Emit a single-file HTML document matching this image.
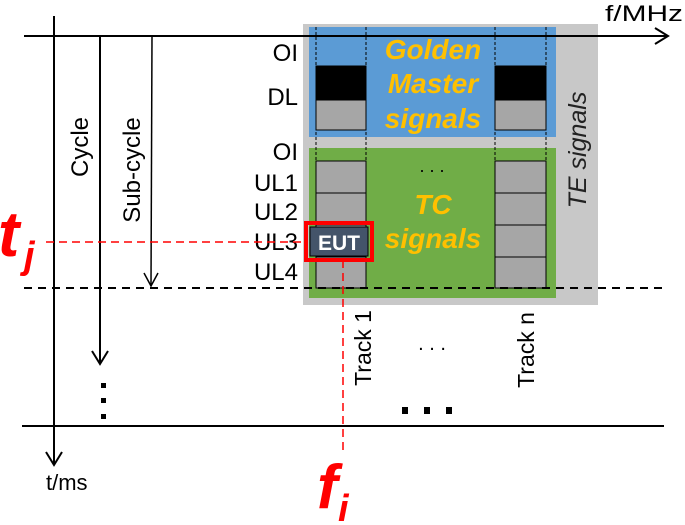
<!DOCTYPE html>
<html><head><meta charset="utf-8"><style>
html,body{margin:0;padding:0;background:#fff;}
svg{display:block;font-family:"Liberation Sans",Arial,sans-serif;}
</style></head><body>
<svg width="685" height="525" viewBox="0 0 685 525" xmlns="http://www.w3.org/2000/svg">
<rect x="303" y="24" width="295" height="281" fill="#c8c8c8"/>
<rect x="309" y="27" width="247" height="110" fill="#5b9bd5"/>
<rect x="309" y="148" width="247" height="150" fill="#70ad47"/>
<g stroke="#000" stroke-width="1" stroke-dasharray="3,2" fill="none">
<line x1="316" y1="27" x2="316" y2="288"/><line x1="366" y1="27" x2="366" y2="288"/>
<line x1="495" y1="27" x2="495" y2="288"/><line x1="546" y1="27" x2="546" y2="288"/>
<line x1="316" y1="66" x2="366" y2="66"/><line x1="495" y1="66" x2="546" y2="66"/>
</g>
<g stroke="#000" stroke-width="1">
<rect x="316" y="66" width="50" height="34" fill="#000"/>
<rect x="316" y="100" width="50" height="30" fill="#a6a6a6"/>
<rect x="495" y="66" width="51" height="34" fill="#000"/>
<rect x="495" y="100" width="51" height="30" fill="#a6a6a6"/>
<rect x="316" y="161" width="50" height="32" fill="#a6a6a6"/>
<rect x="316" y="193" width="50" height="32" fill="#a6a6a6"/>
<rect x="316" y="225" width="50" height="32" fill="#a6a6a6"/>
<rect x="316" y="257" width="50" height="31" fill="#a6a6a6"/>
<rect x="495" y="161" width="51" height="32" fill="#a6a6a6"/>
<rect x="495" y="193" width="51" height="32" fill="#a6a6a6"/>
<rect x="495" y="225" width="51" height="32" fill="#a6a6a6"/>
<rect x="495" y="257" width="51" height="31" fill="#a6a6a6"/>
</g>
<g fill="#ffc000" font-weight="bold" font-style="italic" font-size="28" text-anchor="middle">
<text x="433" y="59">Golden</text><text x="433" y="93">Master</text><text x="433" y="128">signals</text>
<text x="433" y="214">TC</text><text x="433" y="248">signals</text>
</g>
<text x="432" y="172" font-size="18" text-anchor="middle">. . .</text>
<text transform="translate(586,150) rotate(-90)" font-size="25" font-style="italic" text-anchor="middle" fill="#222">TE signals</text>
<g stroke="#000" stroke-width="2" fill="none">
<line x1="24" y1="36" x2="668" y2="36"/><polyline points="655,28 668,36 655,44"/>
<line x1="54" y1="16" x2="54" y2="465"/><polyline points="46,452 54,465 62,452"/>
<line x1="100" y1="36" x2="100" y2="364"/><polyline points="92,351 100,364 108,351"/>
<line x1="22" y1="426" x2="664" y2="426"/>
</g>
<g stroke="#000" stroke-width="1.5" fill="none">
<line x1="152" y1="36" x2="151" y2="286"/><polyline points="144,273 151,286 158,273"/>
</g>
<line x1="24" y1="288" x2="665" y2="288" stroke="#000" stroke-width="2" stroke-dasharray="8,6"/>
<text x="605" y="21" font-size="22" textLength="78" lengthAdjust="spacingAndGlyphs">f/MHz</text>
<text x="46" y="490" font-size="22">t/ms</text>
<g font-size="24" text-anchor="end">
<text x="298" y="61">OI</text><text x="298" y="105">DL</text><text x="298" y="160">OI</text>
<text x="298" y="191">UL1</text><text x="298" y="220">UL2</text><text x="298" y="250">UL3</text><text x="298" y="280">UL4</text>
</g>
<text transform="translate(88,147) rotate(-90)" font-size="24" text-anchor="middle">Cycle</text>
<text transform="translate(140,170) rotate(-90)" font-size="24" text-anchor="middle">Sub-cycle</text>
<text transform="translate(371,348) rotate(-90)" font-size="23" text-anchor="middle">Track 1</text>
<text transform="translate(534,350) rotate(-90)" font-size="23" text-anchor="middle">Track n</text>
<text x="432" y="350" font-size="20" text-anchor="middle">. . .</text>
<g fill="#000"><rect x="101" y="383" width="5" height="5"/><rect x="101" y="398" width="5" height="5"/><rect x="101" y="414" width="5" height="5"/>
<rect x="402" y="407" width="6" height="7"/><rect x="424" y="407" width="6" height="7"/><rect x="446" y="407" width="6" height="7"/></g>
<g stroke="#ff0000" stroke-width="1.5" stroke-dasharray="8,5">
<line x1="46" y1="242" x2="306" y2="242"/>
<line x1="343" y1="260" x2="343" y2="450"/>
</g>
<rect x="306" y="223" width="66" height="37" fill="none" stroke="#ff0000" stroke-width="4"/>
<rect x="310" y="227" width="58" height="29" fill="#44546a" stroke="#000" stroke-width="1"/>
<text x="339" y="250" font-size="21" font-weight="bold" fill="#fff" text-anchor="middle">EUT</text>
<g fill="#ff0000" font-weight="bold" font-style="italic">
<text x="-2" y="256" font-size="64">t</text><text x="24" y="268" font-size="38">j</text>
<text x="317" y="508" font-size="62">f</text><text x="338" y="521" font-size="38">i</text>
</g>
</svg>
</body></html>
